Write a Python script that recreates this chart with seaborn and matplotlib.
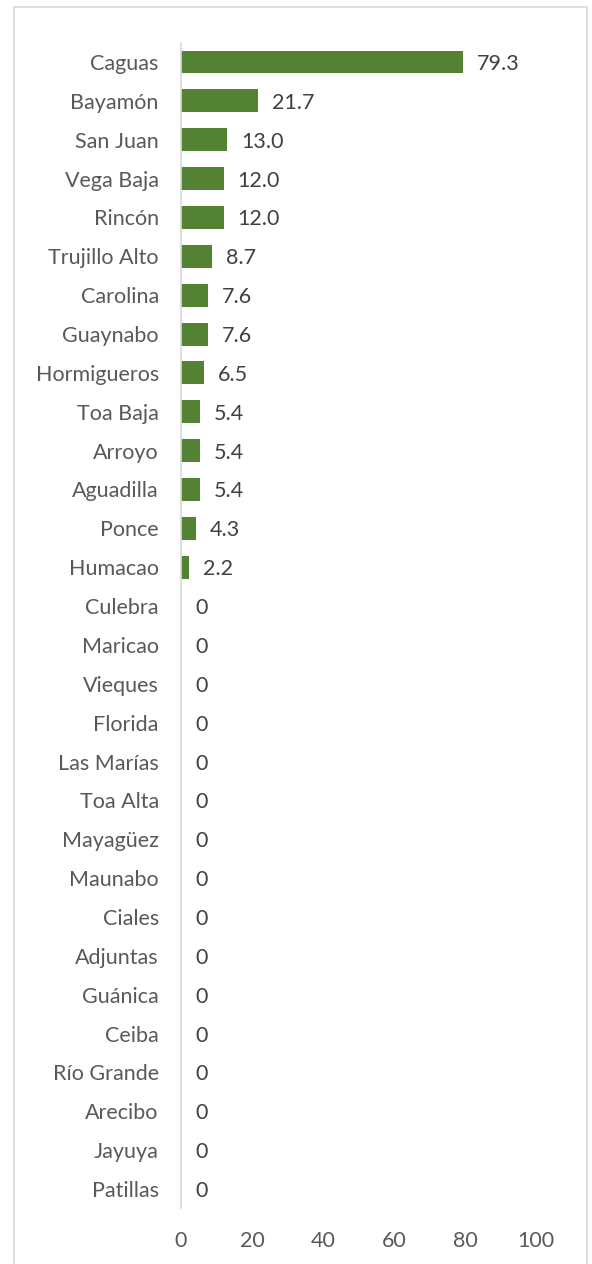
import matplotlib
matplotlib.use("Agg")
import matplotlib.pyplot as plt
import seaborn as sns
import pandas as pd
from matplotlib.patches import Rectangle

# municipios and values
municipios = ["Caguas", "Bayamón", "San Juan", "Vega Baja", "Rincón", "Trujillo Alto",
              "Carolina", "Guaynabo", "Hormigueros", "Toa Baja", "Arroyo", "Aguadilla",
              "Ponce", "Humacao", "Culebra", "Maricao", "Vieques", "Florida", "Las Marías",
              "Toa Alta", "Mayagüez", "Maunabo", "Ciales", "Adjuntas", "Guánica", "Ceiba",
              "Río Grande", "Arecibo", "Jayuya", "Patillas"]
valores = [79.3, 21.7, 13.0, 12.0, 12.0, 8.7, 7.6, 7.6, 6.5, 5.4, 5.4, 5.4, 4.3, 2.2,
           0, 0, 0, 0, 0, 0, 0, 0, 0, 0, 0, 0, 0, 0, 0, 0]
x_ticks = [0, 20, 40, 60, 80, 100]

df = pd.DataFrame({"municipio": municipios, "valor": valores})

sns.set_style("white")
plt.rcParams["font.family"] = ["Lato", "DejaVu Sans"]

fig = plt.figure(figsize=(5.92, 12.64), dpi=100)
ax = fig.add_axes([181 / 592, 1 - 1208.4 / 1264, 355 / 592, (1208.4 - 42.6) / 1264])

sns.barplot(data=df, x="valor", y="municipio", color="#548235", width=0.59,
            saturation=1, linewidth=0, ax=ax)

labels = ["0" if v == 0 else f"{v:.1f}" for v in valores]
texts = ax.bar_label(ax.containers[0], labels=labels, padding=10, fontsize=15.5,
                     color="#404040")
for t in texts:
    t.set_va("center_baseline")

ax.set_xlim(0, 100)
ax.set_ylim(len(municipios) - 0.5, -0.5)
ax.set_xticks(x_ticks)
ax.set_xlabel("")
ax.set_ylabel("")
ax.tick_params(axis="y", length=0, pad=16, labelsize=15.5, labelcolor="#595959")
ax.tick_params(axis="x", length=0, pad=16, labelsize=15.5, labelcolor="#595959")

for side in ["top", "right", "bottom"]:
    ax.spines[side].set_visible(False)
ax.spines["left"].set_color("#d9d9d9")
ax.spines["left"].set_linewidth(1.2)

# chart area border
fig.patches.append(Rectangle((14 / 592, -0.01), (587 - 14) / 592, 1 - 7 / 1264 + 0.01,
                             transform=fig.transFigure, fill=False,
                             edgecolor="#d9d9d9", linewidth=1.2))

fig.savefig("out.png", dpi=100, facecolor="white")
